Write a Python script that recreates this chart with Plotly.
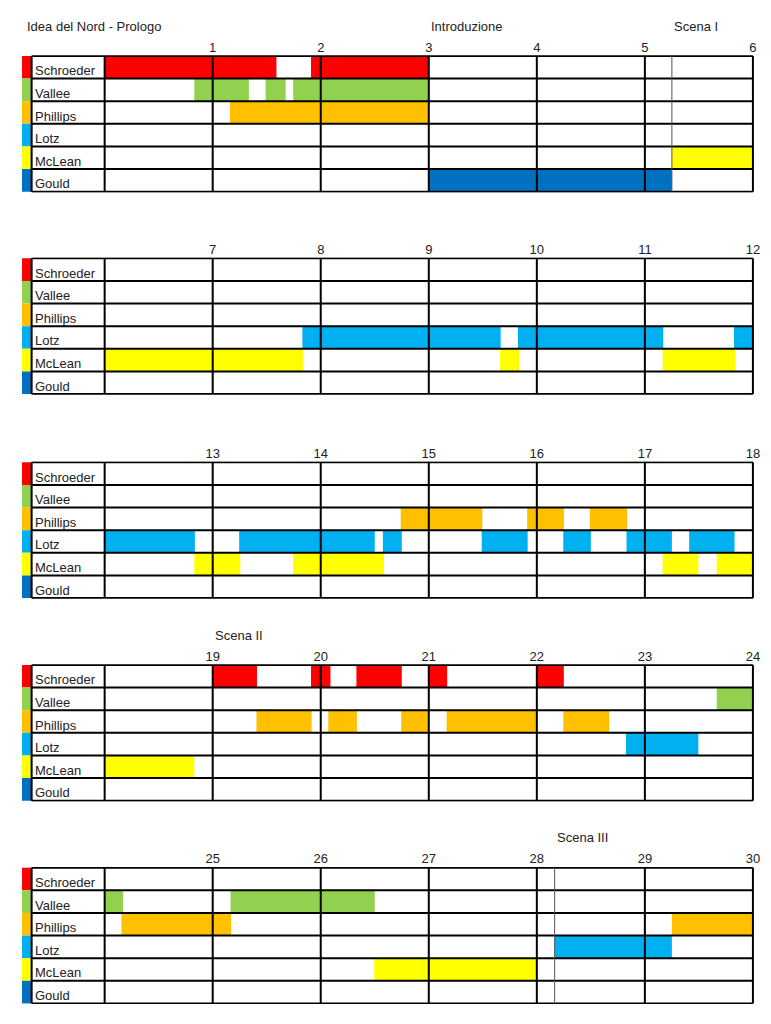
import plotly.graph_objects as go

# ---------------- data ----------------
performers = ["Schroeder", "Vallee", "Phillips", "Lotz", "McLean", "Gould"]
performer_colors = ["#FF0000", "#92D050", "#FFC000", "#00B0F0", "#FFFF00", "#0070C0"]

schroeder_start = [0.0, 1.91, 19.0, 19.91, 20.33, 21.0, 22.0]
schroeder_end = [1.59, 3.0, 19.41, 20.09, 20.75, 21.17, 22.25]
vallee_start = [0.83, 1.49, 1.745, 23.665, 25.165]
vallee_end = [1.335, 1.675, 3.0, 24.17, 26.5]
phillips_start = [1.16, 14.74, 15.91, 16.49, 19.405, 20.07, 20.745, 21.165, 22.245, 24.155, 29.25]
phillips_end = [3.0, 15.495, 16.25, 16.835, 19.915, 20.335, 21.0, 22.0, 22.67, 25.17, 30.0]
lotz_start = [7.83, 9.825, 11.825, 13.245, 14.575, 15.49, 16.245, 16.83, 17.41, 22.825, 28.165]
lotz_end = [9.665, 11.17, 12.835, 14.5, 14.75, 15.915, 16.5, 17.25, 17.83, 23.495, 29.25]
mclean_start = [5.25, 9.66, 11.165, 12.83, 13.745, 17.165, 17.665, 26.495]
mclean_end = [7.835, 9.835, 11.835, 13.255, 14.585, 17.495, 18.83, 28.0]
gould_start = [3.0]
gould_end = [5.25]

panel_starts = [0, 6, 12, 18, 24]
panel_length = 6

work_title = "Idea del Nord - Prologo"
section_names = ["Introduzione", "Scena I", "Scena II", "Scena III"]
section_starts = [3.0, 5.25, 19.0, 28.165]

segments = [
    (schroeder_start, schroeder_end),
    (vallee_start, vallee_end),
    (phillips_start, phillips_end),
    (lotz_start, lotz_end),
    (mclean_start, mclean_end),
    (gould_start, gould_end),
]

# ---------------- layout geometry ----------------
PAGE_OFF = 8           # default body margin of the html page
W, H = 771 - 2 * PAGE_OFF, 1024 - 2 * PAGE_OFF
M_L, M_R = 22 - PAGE_OFF, 9
panel_tops_px = [t - PAGE_OFF for t in [56, 258.3, 462.3, 665, 867.7]]
row_h = 22.62
ext = 0.03
x_left = -0.765      # colour strip left edge (minutes relative to panel start)
label_left = -0.676  # left border of the name column
x_right_pad = 0.01
font_family = "Liberation Sans, Arial, sans-serif"
text_color = "#222222"

fig = go.Figure()
shapes = []
annotations = []
n_rows = len(performers)

for p, p0 in enumerate(panel_starts):
    p1 = p0 + panel_length
    xa = "x" if p == 0 else f"x{p+1}"
    ya = "y" if p == 0 else f"y{p+1}"
    xkey = "xaxis" if p == 0 else f"xaxis{p+1}"
    ykey = "yaxis" if p == 0 else f"yaxis{p+1}"

    # bars
    for r, (starts, ends) in enumerate(segments):
        bs, bl = [], []
        for s, e in zip(starts, ends):
            s2, e2 = max(s, p0), min(e, p1)
            if e2 > s2:
                bs.append(s2)
                bl.append(e2 - s2)
        if bs:
            fig.add_trace(go.Bar(
                orientation="h", y=[r] * len(bs), base=bs, x=bl, width=1,
                marker=dict(color=performer_colors[r], line=dict(width=0)),
                xaxis=xa, yaxis=ya, showlegend=False, hoverinfo="skip",
            ))

    top_px = panel_tops_px[p] - ext * row_h
    bot_px = panel_tops_px[p] + (n_rows + ext) * row_h
    fig.layout[xkey] = dict(
        domain=[0, 1], anchor=ya, range=[p0 + x_left, p1 + x_right_pad],
        side="top", showgrid=False, zeroline=False, showline=False,
        tickmode="array", tickvals=list(range(p0 + 1, p1 + 1)),
        ticktext=[str(v) for v in range(p0 + 1, p1 + 1)],
        ticks="", tickfont=dict(size=13, color=text_color, family=font_family),
        fixedrange=True,
    )
    fig.layout[ykey] = dict(
        domain=[1 - bot_px / H, 1 - top_px / H], anchor=xa,
        range=[n_rows - 0.5 + ext, -0.5 - ext], showgrid=False,
        zeroline=False, showticklabels=False, showline=False, fixedrange=True,
    )

    # colour strips and names
    for r in range(n_rows):
        shapes.append(dict(type="rect", xref=xa, yref=ya, x0=p0 + x_left, x1=p0 + label_left,
                           y0=r - 0.5, y1=r + 0.5, fillcolor=performer_colors[r],
                           line=dict(width=0), layer="below"))
        annotations.append(dict(xref=xa, yref=ya, x=p0 + label_left, y=r, text=performers[r],
                                showarrow=False, xanchor="left", yanchor="middle",
                                xshift=1, yshift=-3.5,
                                font=dict(size=13, color=text_color, family=font_family)))

    # horizontal grid lines
    for k in range(n_rows + 1):
        shapes.append(dict(type="line", xref=xa, yref=ya, x0=p0 + label_left, x1=p1,
                           y0=k - 0.5, y1=k - 0.5, line=dict(color="black", width=2), layer="above"))
    # vertical grid lines
    for v in [p0 + label_left] + list(range(p0, p1 + 1)):
        shapes.append(dict(type="line", xref=xa, yref=ya, x0=v, x1=v,
                           y0=-0.5, y1=n_rows - 0.5, line=dict(color="black", width=2), layer="above"))

# section markers
for name, s in zip(section_names, section_starts):
    p = int(s // panel_length)
    xa = "x" if p == 0 else f"x{p+1}"
    ya = "y" if p == 0 else f"y{p+1}"
    if s % 1 != 0:
        shapes.append(dict(type="line", xref=xa, yref=ya, x0=s, x1=s, y0=-0.5, y1=n_rows - 0.5,
                           line=dict(color="#555555", width=1), layer="above"))
    annotations.append(dict(xref=xa, yref="paper", x=s, y=1 - (panel_tops_px[p] - 30) / H,
                            text=name, showarrow=False, xanchor="left", yanchor="middle",
                            xshift=0.5, font=dict(size=13, color=text_color, family=font_family)))

annotations.append(dict(xref="paper", yref="paper", x=(25 - PAGE_OFF - M_L) / (W - M_L - M_R),
                        y=1 - (panel_tops_px[0] - 30) / H, text=work_title, showarrow=False,
                        xanchor="left", yanchor="middle",
                        font=dict(size=13, color=text_color, family=font_family)))

fig.update_layout(
    width=W, height=H, margin=dict(l=M_L, r=M_R, t=0, b=0),
    paper_bgcolor="white", plot_bgcolor="white", barmode="overlay",
    shapes=shapes, annotations=annotations, showlegend=False,
    font=dict(family=font_family),
)

fig.write_html("out.html", config={"displayModeBar": False})
